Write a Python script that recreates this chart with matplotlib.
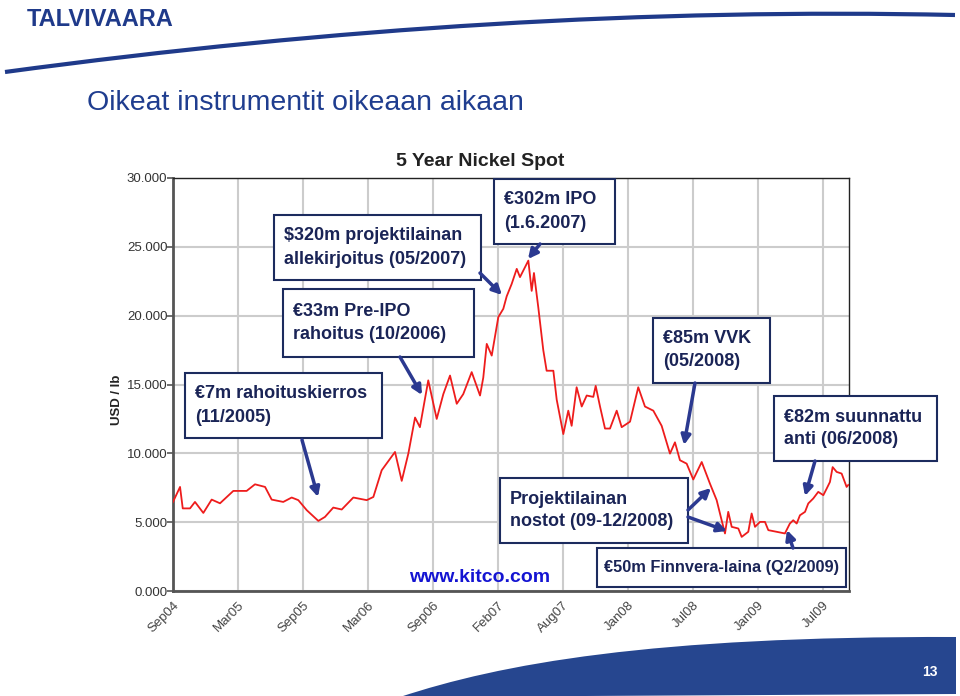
import matplotlib
matplotlib.use("Agg")
import matplotlib.pyplot as plt
from matplotlib.patches import Rectangle, FancyArrowPatch, PathPatch
from matplotlib.path import Path

plt.rcParams['font.family'] = ['Liberation Sans', 'DejaVu Sans']

# ---------------- data ----------------
# months since Sep 2004, nickel spot price
months = [0.0, 0.65, 0.9, 1.57, 2.03, 2.8, 3.57, 4.34, 5.57, 6.8, 7.57, 8.5, 9.11,
          10.18, 10.96, 11.57, 12.35, 13.42, 14.03, 14.8, 15.58, 16.65, 17.89, 18.5,
          19.27, 20.5, 21.12, 21.73, 22.35, 22.8, 23.57, 24.35, 24.96, 25.58, 26.2,
          26.8, 27.58, 28.35, 28.65, 28.97, 29.43, 30.04, 30.5, 30.81, 31.27, 31.74,
          32.04, 32.81, 33.12, 33.33, 33.73, 34.19, 34.5, 35.12, 35.43, 36.04, 36.5,
          36.81, 37.27, 37.74, 38.2, 38.81, 39.03, 39.43, 39.89, 40.35, 40.97, 41.43,
          42.2, 42.96, 43.58, 44.35, 45.12, 45.89, 46.35, 46.81, 47.43, 48.04, 48.82,
          49.58, 50.2, 50.66, 50.97, 51.27, 51.59, 52.2, 52.51, 53.12, 53.43, 53.74,
          54.2, 54.66, 54.97, 55.74, 56.5, 56.96, 57.27, 57.59, 57.89, 58.36, 58.66,
          59.12, 59.58, 60.05, 60.36, 60.66, 60.91, 61.28, 61.74, 62.2, 62.35]
price = [6470, 7560, 6000, 6000, 6470, 5670, 6640, 6370, 7270, 7270, 7750, 7560, 6640,
         6470, 6790, 6600, 5870, 5090, 5380, 6060, 5920, 6790, 6600, 6830,
         8770, 10100, 8000, 9980, 12600, 11900, 15300, 12500, 14300, 15650, 13600,
         14300, 15900, 14200, 15500, 17950, 17100, 19900, 20500, 21400, 22300, 23400,
         22800, 24000, 21800, 23100, 20600, 17500, 16000, 16000, 13900, 11400, 13100,
         12000, 14800, 13400, 14200, 14100, 14900, 13400, 11800, 11800, 13100, 11900,
         12300, 14800, 13400, 13100, 12000, 9980, 10800, 9500, 9250, 8100, 9370,
         7800, 6600, 5140, 4180, 5750, 4660, 4540, 3930, 4300, 5630, 4660,
         5020, 5020, 4420, 4300, 4180, 4900, 5140, 4900, 5500, 5750, 6360,
         6720, 7200, 6960, 7440, 7920, 9000, 8650, 8530, 7560, 7700]

tick_pos = [0, 6, 12, 18, 24, 30, 36, 42, 48, 54, 60]
tick_labels = ['Sep04', 'Mar05', 'Sep05', 'Mar06', 'Sep06', 'Feb07', 'Aug07',
               'Jan08', 'Jul08', 'Jan09', 'Jul09']
y_ticks = [0, 5000, 10000, 15000, 20000, 25000, 30000]
y_tick_labels = ['0.000', '5.000', '10.000', '15.000', '20.000', '25.000', '30.000']

# ---------------- figure ----------------
W, H = 960, 696
fig = plt.figure(figsize=(9.6, 6.96), dpi=100)
fig.patch.set_facecolor('white')


def px(x, y):
    return (x / W, 1 - y / H)


NAVY = '#1f3a8a'
BOXEDGE = '#1c2b5e'
TXT = '#1a2456'
ARROW = '#2b3990'

ax = fig.add_axes([173 / W, 1 - 591 / H, 676 / W, 413 / H])
ax.plot(months, price, color='#ee1c1c', lw=1.3, zorder=3)
ax.set_xlim(0, 62.42)
ax.set_ylim(0, 30000)
ax.set_xticks(tick_pos)
ax.set_xticklabels(tick_labels, rotation=45, ha='right', rotation_mode='anchor',
                   fontsize=9.5, color='#444444')
ax.set_yticks(y_ticks)
ax.set_yticklabels(y_tick_labels, fontsize=9.5, color='#333333')
ax.grid(True, color='#cccccc', lw=1.5, zorder=0)
ax.set_axisbelow(True)
ax.tick_params(axis='y', length=4, width=1.2, color='#555555', pad=0)
ax.tick_params(axis='x', length=0, pad=6)
for s in ['left', 'bottom']:
    ax.spines[s].set_color('#555555')
    ax.spines[s].set_linewidth(2)
for s in ['top', 'right']:
    ax.spines[s].set_color('#222222')
    ax.spines[s].set_linewidth(1)

fig.text(*px(480, 162), '5 Year Nickel Spot', fontsize=14, fontweight='bold',
         ha='center', va='center', color='#222222')
fig.text(*px(117, 400), 'USD / lb', fontsize=9.5, fontweight='bold', rotation=90,
         ha='center', va='center', color='#222222')
fig.text(*px(480, 578), 'www.kitco.com', fontsize=14, fontweight='bold',
         ha='center', va='center', color='#1414d2')

# ---------------- slide decoration ----------------
fig.text(*px(27, 20), 'TALVIVAARA', fontsize=17, fontweight='bold',
         color=NAVY, ha='left', va='center')
fig.text(*px(87, 103), 'Oikeat instrumentit oikeaan aikaan', fontsize=20.5,
         color='#1f3d8f', ha='left', va='center')

# top swoosh
verts = [px(5, 72), px(500, 5), px(955, 15)]
swoosh = PathPatch(Path(verts, [Path.MOVETO, Path.CURVE3, Path.CURVE3]),
                   fill=False, edgecolor=NAVY, lw=3, transform=fig.transFigure)
fig.add_artist(swoosh)

# bottom band
bverts = [px(400, 697), px(500, 664), px(650, 636), px(956, 637),
          px(956, 694), px(400, 697), px(400, 697)]
bcodes = [Path.MOVETO, Path.CURVE4, Path.CURVE4, Path.CURVE4,
          Path.LINETO, Path.LINETO, Path.CLOSEPOLY]
band = PathPatch(Path(bverts, bcodes), facecolor='#26468f', edgecolor='none',
                 transform=fig.transFigure)
fig.add_artist(band)
fig.text(*px(930, 672), '13', fontsize=10, fontweight='bold', color='white',
         ha='center', va='center')

# ---------------- annotation boxes ----------------
boxes = [
    (274, 215, 481, 280, ['$320m projektilainan', 'allekirjoitus (05/2007)']),
    (494, 179, 615, 244, ['€302m IPO', '(1.6.2007)']),
    (283, 289, 474, 357, ['€33m Pre-IPO', 'rahoitus (10/2006)']),
    (185, 373, 382, 438, ['€7m rahoituskierros', '(11/2005)']),
    (653, 318, 770, 383, ['€85m VVK', '(05/2008)']),
    (774, 396, 937, 461, ['€82m suunnattu', 'anti (06/2008)']),
    (500, 478, 688, 543, ['Projektilainan', 'nostot (09-12/2008)']),
    (597, 548, 846, 587, ['€50m Finnvera-laina (Q2/2009)']),
]
for (x0, y0, x1, y1, lines) in boxes:
    bl = px(x0, y1)
    rect = Rectangle(bl, (x1 - x0) / W, (y1 - y0) / H, facecolor='white',
                     edgecolor=BOXEDGE, lw=1.5, transform=fig.transFigure, zorder=5)
    fig.add_artist(rect)
    cy = (y0 + y1) / 2
    if len(lines) == 1:
        fig.text(*px((x0 + x1) / 2, cy), lines[0], fontsize=11.8, fontweight='bold',
                 color=TXT, ha='center', va='center', zorder=6)
    else:
        fig.text(*px(x0 + 10, cy - 11.5), lines[0], fontsize=13, fontweight='bold',
                 color=TXT, ha='left', va='center', zorder=6)
        fig.text(*px(x0 + 10, cy + 11.5), lines[1], fontsize=13, fontweight='bold',
                 color=TXT, ha='left', va='center', zorder=6)

arrows = [
    ((302, 440), (318, 497)),
    ((400, 357), (422, 395)),
    ((480, 273), (502, 295)),
    ((540, 244), (528, 259)),
    ((695, 383), (684, 445)),
    ((815, 461), (805, 496)),
    ((688, 510), (711, 488)),
    ((688, 517), (727, 531)),
    ((793, 548), (787, 530)),
]
for (a, b) in arrows:
    arr = FancyArrowPatch(px(*a), px(*b), transform=fig.transFigure,
                          arrowstyle='-|>', mutation_scale=14, lw=2.5,
                          color=ARROW, shrinkA=0, shrinkB=0, zorder=7)
    fig.add_artist(arr)

fig.savefig('out.png', dpi=100, facecolor='white')
